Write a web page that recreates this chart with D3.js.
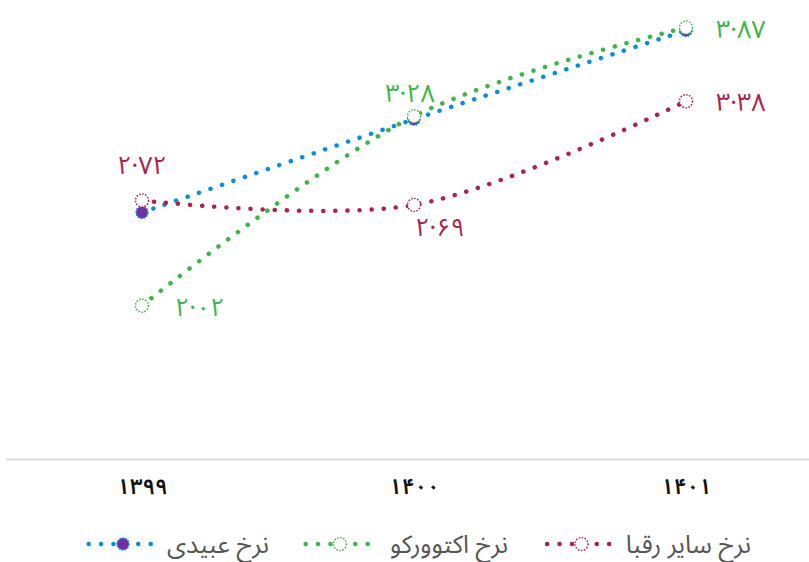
<!DOCTYPE html>
<html><head><meta charset="utf-8">
<script src="https://cdn.jsdelivr.net/npm/d3@7/dist/d3.min.js"></script>
<style>html,body{margin:0;padding:0;background:#fff;}svg{display:block;}</style>
</head><body>
<svg id="c" width="809" height="562"></svg>
<script>
const categories = ["۱۳۹۹", "۱۴۰۰", "۱۴۰۱"];
const seriesNames = ["نرخ عبیدی", "نرخ اکتوورکو", "نرخ سایر رقبا"];
const obeidi = [2.64, 3.26, 3.85];
const actoverco = [2.02, 3.28, 3.87];
const rivals = [2.72, 2.69, 3.38];
const actovercoLabels = ["۲·۰۲", "۳·۲۸", "۳·۸۷"];
const rivalsLabels = ["۲·۷۲", "۲·۶۹", "۳·۳۸"];

const colors = ["#0a8ed6", "#3db54a", "#a8234f"];
const purple = "#7030a0";
const font = "'Noto Sans Arabic', 'DejaVu Sans', sans-serif";

const svg = d3.select("#c");
const x = d3.scalePoint().domain(categories).range([142, 686]);
const y = d3.scaleLinear().domain([1, 4]).range([459, 8]);

// baseline
svg.append("line").attr("x1", 6).attr("x2", 809).attr("y1", 459.5).attr("y2", 459.5)
  .attr("stroke", "#dcdcdc").attr("stroke-width", 2);

// x axis labels
const xAxis = d3.axisBottom(x).tickSize(0).tickPadding(0);
const gx = svg.append("g").attr("transform", "translate(0,494)").call(xAxis);
gx.select(".domain").remove();
gx.selectAll("text").attr("font-family", font).attr("font-size", 22).attr("font-weight", "600")
  .attr("fill", "#111").attr("dy", 0);

const series = [
  {vals: obeidi, color: colors[0], labels: null},
  {vals: actoverco, color: colors[1], labels: actovercoLabels},
  {vals: rivals, color: colors[2], labels: rivalsLabels}
];

const line = d3.line().x((d, i) => x(categories[i])).y(d => y(d)).curve(d3.curveCatmullRom.alpha(0.5));

series.forEach((s, si) => {
  svg.append("path").attr("d", line(s.vals)).attr("fill", "none")
    .attr("stroke", s.color).attr("stroke-width", 4.5).attr("stroke-linecap", "round")
    .attr("stroke-dasharray", "0.1 12");
});

function marker(g, cx, cy, si) {
  if (si === 0) {
    g.append("circle").attr("cx", cx).attr("cy", cy).attr("r", 6).attr("fill", purple)
      .attr("stroke", colors[0]).attr("stroke-width", 1.5).attr("stroke-dasharray", "1.5 1.5");
  } else {
    g.append("circle").attr("cx", cx).attr("cy", cy).attr("r", 6.5).attr("fill", "#fff")
      .attr("stroke", colors[si]).attr("stroke-width", 1.5).attr("stroke-dasharray", "1.5 1.5");
  }
}

series.forEach((s, si) => {
  const g = svg.append("g");
  s.vals.forEach((v, i) => marker(g, x(categories[i]), y(v), si));
});

// data labels
const lab = svg.append("g").attr("font-family", font).attr("font-size", 25);
lab.append("text").attr("x", x(categories[0]) + 33).attr("y", y(actoverco[0]) + 10)
  .attr("fill", colors[1]).text(actovercoLabels[0]);
lab.append("text").attr("x", x(categories[1]) - 4).attr("y", y(actoverco[1]) - 14)
  .attr("text-anchor", "middle").attr("fill", colors[1]).text(actovercoLabels[1]);
lab.append("text").attr("x", x(categories[2]) + 30).attr("y", y(actoverco[2]) + 10)
  .attr("fill", colors[1]).text(actovercoLabels[2]);
lab.append("text").attr("x", x(categories[0])).attr("y", y(rivals[0]) - 26)
  .attr("text-anchor", "middle").attr("fill", colors[2]).text(rivalsLabels[0]);
lab.append("text").attr("x", x(categories[1]) + 26).attr("y", y(rivals[1]) + 31)
  .attr("text-anchor", "middle").attr("fill", colors[2]).text(rivalsLabels[1]);
lab.append("text").attr("x", x(categories[2]) + 30).attr("y", y(rivals[2]) + 10)
  .attr("fill", colors[2]).text(rivalsLabels[2]);

// legend
const legendItems = [
  {text: seriesNames[0], si: 0, textRight: 269, markerX: 123},
  {text: seriesNames[1], si: 1, textRight: 508, markerX: 340},
  {text: seriesNames[2], si: 2, textRight: 751, markerX: 581.5}
];
const lg = svg.append("g");
legendItems.forEach(it => {
  const ly = 544;
  const L = it.markerX - 34.4;
  lg.append("line").attr("x1", L).attr("x2", L + 62.5).attr("y1", ly).attr("y2", ly)
    .attr("stroke", colors[it.si]).attr("stroke-width", 4.5).attr("stroke-linecap", "round")
    .attr("stroke-dasharray", "0.1 12.3");
  marker(lg, it.markerX, ly, it.si);
  lg.append("text").attr("x", it.textRight).attr("y", 553).attr("text-anchor", "end")
    .attr("font-family", font).attr("font-size", 25).attr("fill", "#555").text(it.text);
});
</script>
</body></html>
